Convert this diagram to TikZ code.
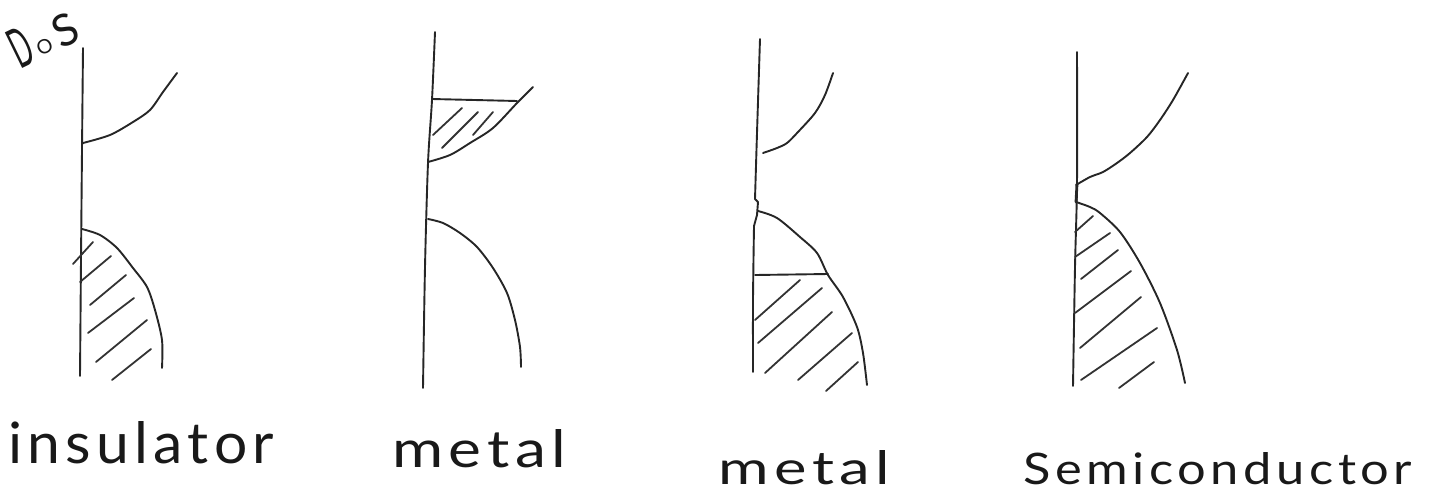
\documentclass[tikz,border=0pt]{standalone}
\usepackage{fontspec}
\setmainfont{Lato}
\usepackage{graphicx}
\tikzset{
  pencil/.style={draw=black!85, line width=1.9pt, line cap=round, line join=round},
  hatch/.style={draw=black!80, line width=1.8pt, line cap=round},
  hand/.style={inner sep=0pt, text=black!90},
}
\newcommand{\hwword}[4]{\resizebox{#2pt}{#3pt}{\fontsize{#4}{#4}\selectfont\addfontfeature{LetterSpace=9}#1}}
\begin{document}
\begin{tikzpicture}[x=1pt,y=-1pt]
\useasboundingbox (0,0) rectangle (1432,493);

% ---------- Panel 1: insulator ----------
\draw[pencil] plot[smooth] coordinates {(83,48) (82,150) (81,260) (80,376)};
\draw[pencil] plot[smooth] coordinates {(83,143) (110,135) (133,122) (150,110) (163,92) (177,73)};
\draw[pencil] plot[smooth] coordinates {(82,229) (100,235) (117,248) (133,268) (147,287) (155,310) (162,340) (162,368)};
\draw[hatch] (73,264) -- (93,242);
\draw[hatch] (80,282) -- (111,256);
\draw[hatch] (90,305) -- (126,275);
\draw[hatch] (88,333) -- (134,298);
\draw[hatch] (96,362) -- (147,320);
\draw[hatch] (112,380) -- (151,349);
\node[hand, rotate=26, anchor=center] (dos) at (43,37)
  {\scalebox{1.1}{\resizebox{18pt}{36pt}{D}\hspace{4pt}\raisebox{3pt}{\resizebox{!}{13pt}{O}}\hspace{5pt}\resizebox{!}{29pt}{S}}};

% ---------- Panel 2: metal ----------
\draw[pencil] plot[smooth] coordinates {(435,32) (432,100) (428,163) (425,267) (423,388)};
\draw[pencil] (432,99) -- (517,101);
\draw[pencil] plot[smooth] coordinates {(428,162) (450,155) (470,143) (493,128) (517,103) (533,87)};
\draw[hatch] (433,135) -- (462,108);
\draw[hatch] (442,148) -- (478,112);
\draw[hatch] (473,135) -- (493,112);
\draw[pencil] plot[smooth] coordinates {(428,219) (443,223) (460,233) (477,247) (493,268) (507,293) (515,320) (520,347) (521,367)};

% ---------- Panel 3: metal ----------
\draw[pencil] plot[smooth] coordinates {(760,39) (757,133) (755,199)};
\draw[pencil] (755,199) -- (758,202) -- (757,215) -- (754,226);
\draw[pencil] plot[smooth] coordinates {(754,226) (753,300) (753,372)};
\draw[pencil] plot[smooth] coordinates {(763,153) (777,148) (787,143) (798,132) (815,113) (825,95) (833,73)};
\draw[pencil] plot[smooth] coordinates {(758,211) (777,218) (800,237) (817,253) (828,275) (843,297) (857,327) (863,353) (867,385)};
\draw[pencil] (755,275) -- (828,274);
\draw[hatch] (755,320) -- (800,280);
\draw[hatch] (758,343) -- (822,288);
\draw[hatch] (765,373) -- (832,312);
\draw[hatch] (798,380) -- (852,333);
\draw[hatch] (826,391) -- (858,362);

% ---------- Panel 4: semiconductor ----------
\draw[pencil] plot[smooth] coordinates {(1077,52) (1077,183) (1075,267) (1073,386)};
\draw[pencil] plot[smooth] coordinates {(1076,185) (1090,177) (1103,172) (1117,163) (1130,153) (1147,137) (1160,120) (1173,100) (1188,73)};
\draw[pencil, line width=2.8pt] (1077,184) -- (1076,202);
\draw[pencil] plot[smooth] coordinates {(1076,202) (1090,207) (1100,213) (1120,232) (1140,263) (1160,303) (1177,350) (1185,383)};
\draw[hatch] (1075,232) -- (1093,216);
\draw[hatch] (1075,257) -- (1110,233);
\draw[hatch] (1081,279) -- (1118,250);
\draw[hatch] (1075,313) -- (1131,271);
\draw[hatch] (1080,348) -- (1141,297);
\draw[hatch] (1081,380) -- (1157,328);
\draw[hatch] (1119,388) -- (1154,362);

% ---------- Labels ----------
\node[hand, anchor=base west] (lab1) at (8,463) {\hwword{insulator}{266}{42}{40}};
\node[hand, anchor=base west] (lab2) at (392,467) {\hwword{metal}{174}{38}{40}};
\node[hand, anchor=base west] (lab3) at (718,484) {\hwword{metal}{172}{34}{40}};
\node[hand, anchor=base west] (lab4) at (1023,484) {\hwword{Semiconductor}{389}{32}{40}};
\end{tikzpicture}
\end{document}
